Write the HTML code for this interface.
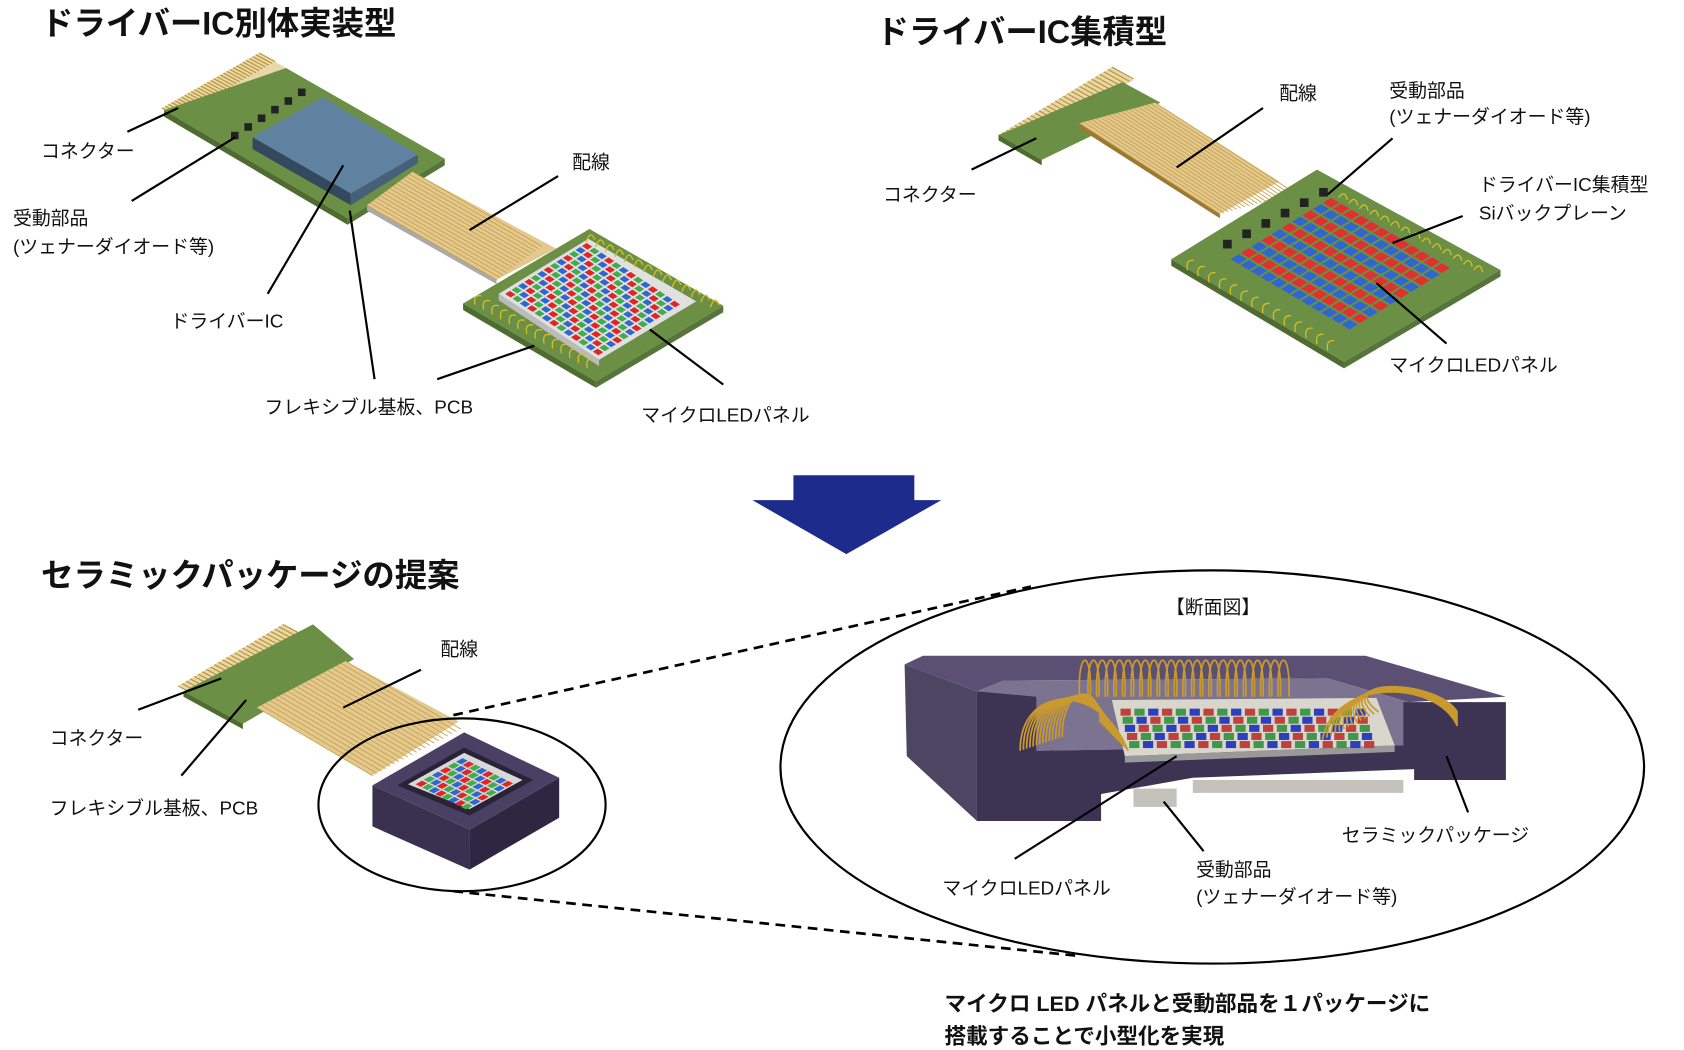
<!DOCTYPE html>
<html><head><meta charset="utf-8"><style>
html,body{margin:0;padding:0;background:#fff;}
svg{display:block;}
text{font-family:"Liberation Sans","Noto Sans CJK JP",sans-serif;fill:#111;}
.t{font-size:30px;font-weight:bold;}
.l{font-size:17.5px;}
.b{font-size:20px;font-weight:bold;}
</style></head><body>
<svg id="s" width="1684" height="1050" viewBox="0 0 1560 972" preserveAspectRatio="none" xmlns="http://www.w3.org/2000/svg">
<rect width="1560" height="972" fill="#fff"/>
<!-- ===== top-left ===== -->
<text class="t" x="38" y="32">ドライバーIC別体実装型</text>
<polygon points="150,100 240,49 265,63 165,110" fill="#e8d7a8"/>
<g id="f1" stroke="#b8902c" stroke-width="1"></g>
<polygon points="152,102 265,63 412,147 322,202" fill="#6b8f45"/>
<polygon points="152,102 322,202 322,208 152,108" fill="#4e6b30"/>
<polygon points="322,202 412,147 412,153 322,208" fill="#56753a"/>
<polygon points="234,127 325,179 325,190 234,138" fill="#34495e"/>
<polygon points="325,179 387,143 387,151 325,190" fill="#46607a"/>
<polygon points="299,90 387,143 325,179 234,127" fill="#5e82a0"/>
<g id="c1" fill="#222"></g>
<polygon points="340,190 382,159 515,230 460,259" fill="#e3c98f"/>
<polygon points="340,190 460,259 460,263 340,195" fill="#aaa"/>
<g id="f2" stroke="#c9a04a" stroke-width="0.8"></g>
<polygon points="429,281 546,212 670,283 552,353" fill="#6b8f45"/>
<polygon points="429,281 552,353 552,359 429,287" fill="#4e6b30"/>
<polygon points="552,353 670,283 670,289 552,359" fill="#56753a"/>
<polygon points="462,272 545,221 645,279 555,333" fill="#e0e0e0"/>
<polygon points="462,272 555,333 555,339 462,278" fill="#bbb"/>
<g id="g1"></g>
<g id="w1" stroke="#d9c020" stroke-width="1.2" fill="none"></g>
<g stroke="#000" stroke-width="2">
<line x1="118" y1="122" x2="165" y2="100"/>
<line x1="122" y1="186" x2="218" y2="127"/>
<line x1="248" y1="272" x2="318" y2="153"/>
<line x1="347" y1="351" x2="324" y2="195"/>
<line x1="405" y1="351" x2="495" y2="320"/>
<line x1="435" y1="213" x2="517" y2="163"/>
<line x1="670" y1="356" x2="602" y2="305"/>
</g>
<text class="l" x="38" y="146">コネクター</text>
<text class="l" x="12" y="208">受動部品</text>
<text class="l" x="12" y="234">(ツェナーダイオード等)</text>
<text class="l" x="158" y="303">ドライバーIC</text>
<text class="l" x="245" y="383">フレキシブル基板、PCB</text>
<text class="l" x="530" y="156">配線</text>
<text class="l" x="594" y="390">マイクロLEDパネル</text>

<!-- ===== top-right ===== -->
<text class="t" x="812" y="40">ドライバーIC集積型</text>
<polygon points="925,125 1030,62 1050,74 945,136" fill="#e8d7a8"/>
<g id="f3" stroke="#b8902c" stroke-width="1"></g>
<polygon points="925,125 1040,76 1075,95 965,148" fill="#6b8f45"/>
<polygon points="925,125 965,148 965,153 925,130" fill="#4e6b30"/>
<polygon points="1000,114 1070,95 1185,168 1130,198" fill="#e3c98f"/>
<polygon points="1000,114 1130,198 1130,202 1000,119" fill="#9a7a30"/>
<g id="f4" stroke="#c9a04a" stroke-width="0.8"></g>
<polygon points="1085,240 1220,157 1390,250 1245,335" fill="#6b8f45"/>
<polygon points="1085,240 1245,335 1245,341 1085,246" fill="#4e6b30"/>
<polygon points="1245,335 1390,250 1390,256 1245,341" fill="#56753a"/>
<g id="g2"></g>
<g id="c2" fill="#222"></g>
<g id="w2" stroke="#d9c020" stroke-width="1.2" fill="none"></g>
<g stroke="#000" stroke-width="2">
<line x1="900" y1="157" x2="960" y2="128"/>
<line x1="1170" y1="100" x2="1090" y2="155"/>
<line x1="1290" y1="128" x2="1230" y2="180"/>
<line x1="1355" y1="200" x2="1290" y2="225"/>
<line x1="1340" y1="318" x2="1275" y2="262"/>
</g>
<text class="l" x="818" y="186">コネクター</text>
<text class="l" x="1185" y="92">配線</text>
<text class="l" x="1287" y="90">受動部品</text>
<text class="l" x="1287" y="114">(ツェナーダイオード等)</text>
<text class="l" x="1370" y="177">ドライバーIC集積型</text>
<text class="l" x="1370" y="203">Siバックプレーン</text>
<text class="l" x="1287" y="344">マイクロLEDパネル</text>

<polygon points="735,440 847,440 847,463 872,463 784,513 697,463 735,463" fill="#1d2b8c"/>

<!-- ===== bottom ===== -->
<text class="t" x="38" y="543">セラミックパッケージの提案</text>
<polygon points="165,635 262,578 280,588 182,645" fill="#e8d7a8"/>
<g id="f5" stroke="#b8902c" stroke-width="1"></g>
<polygon points="170,640 290,578 328,610 225,670" fill="#6b8f45"/>
<polygon points="170,640 225,670 225,675 170,645" fill="#4e6b30"/>
<polygon points="238,655 320,612 425,668 345,718" fill="#e3c98f"/>
<g id="f6" stroke="#c9a04a" stroke-width="0.8"></g>
<ellipse cx="428" cy="745" rx="133" ry="80" fill="none" stroke="#000" stroke-width="2"/>
<polygon points="345,727 435,768 435,805 345,765" fill="#3a3150"/>
<polygon points="435,768 518,720 518,757 435,805" fill="#2e2742"/>
<polygon points="345,727 430,678 518,720 435,768" fill="#4a4063"/>
<polygon points="368,727 430,692 494,722 435,755" fill="#2a2338"/>
<polygon points="378,726 430,697 484,722 435,749" fill="#d8d8d8"/>
<g id="g3"></g>
<g stroke="#000" stroke-width="2.5" stroke-dasharray="9,6" fill="none">
<line x1="420" y1="662" x2="955" y2="543"/>
<line x1="420" y1="825" x2="1000" y2="885"/>
</g>
<ellipse cx="1123" cy="710" rx="400" ry="182" fill="none" stroke="#000" stroke-width="2"/>
<text class="l" x="1080" y="568">【断面図】</text>
<polygon points="838,615 855,607 1265,607 1395,645 1305,650 1230,628 930,630 905,640" fill="#5b5073"/>
<polygon points="905,640 930,630 1230,628 1305,650 1300,690 960,695" fill="#7c7390"/>
<polygon points="838,615 905,640 905,760 840,700" fill="#4e4563"/>
<path d="M905,640 L960,645 L960,695 L1300,690 L1300,650 L1395,650 L1395,722 L1310,722 L1310,712 L1105,720 L1020,735 L1020,760 L905,760 Z" fill="#3d3352"/>
<polygon points="1030,648 1275,646 1292,690 1042,700" fill="#d9d6cc"/>
<polygon points="1042,700 1292,690 1292,696 1042,706" fill="#999"/>
<g id="g4"></g>
<g id="w4" stroke="#c99a2e" stroke-width="1.6" fill="none"></g>
<rect x="1050" y="730" width="40" height="17" fill="#c4c2bb"/>
<rect x="1105" y="722" width="195" height="12" fill="#c4c2bb"/>
<g stroke="#000" stroke-width="2">
<line x1="940" y1="795" x2="1090" y2="700"/>
<line x1="1115" y1="788" x2="1078" y2="742"/>
<line x1="1360" y1="752" x2="1340" y2="700"/>
</g>
<text class="l" x="873" y="828">マイクロLEDパネル</text>
<text class="l" x="1108" y="811">受動部品</text>
<text class="l" x="1108" y="836">(ツェナーダイオード等)</text>
<text class="l" x="1243" y="779">セラミックパッケージ</text>
<text class="l" x="408" y="607">配線</text>
<text class="l" x="46" y="689">コネクター</text>
<text class="l" x="46" y="754">フレキシブル基板、PCB</text>
<g stroke="#000" stroke-width="2">
<line x1="318" y1="655" x2="390" y2="620"/>
<line x1="128" y1="657" x2="205" y2="628"/>
<line x1="168" y1="718" x2="228" y2="648"/>
</g>
<text class="b" x="875" y="936">マイクロ LED パネルと受動部品を１パッケージに</text>
<text class="b" x="875" y="966">搭載することで小型化を実現</text>
</svg>
<script>
var NS="http://www.w3.org/2000/svg";
function el(p,t,a){var e=document.createElementNS(NS,t);for(var k in a)e.setAttribute(k,a[k]);document.getElementById(p).appendChild(e);return e;}
function stripes(id,a,b,d,n){for(var i=0;i<=n;i++){var t=i/n;var x=a[0]+(b[0]-a[0])*t,y=a[1]+(b[1]-a[1])*t;el(id,"line",{x1:x,y1:y,x2:x+d[0],y2:y+d[1]});}}
stripes("f1",[150,100],[240,49],[15,8],30);
stripes("f2",[340,190],[382,159],[120,69],14);
stripes("f3",[925,125],[1030,62],[20,11],28);
stripes("f4",[1000,114],[1070,95],[130,84],18);
stripes("f5",[165,635],[262,578],[17,9],26);
stripes("f6",[238,655],[320,612],[107,63],20);
function grid(id,o,u,v,n,m,colf,f){for(var i=0;i<n;i++)for(var j=0;j<m;j++){var a=i/n,b=j/m,da=f/n,db=f/m;var P=function(s,t){return (o[0]+u[0]*s+v[0]*t)+","+(o[1]+u[1]*s+v[1]*t);};el(id,"polygon",{points:P(a,b)+" "+P(a+da,b)+" "+P(a+da,b+db)+" "+P(a,b+db),fill:colf(i,j)});}}
var rgb=["#e02525","#3fae4a","#2f66d0"];
grid("g1",[468,272],[77,-48],[88,58],13,13,function(i,j){return rgb[(i+j)%3];},0.75);
grid("g2",[1140,240],[95,-58],[112,66],10,12,function(i,j){return i%2?"#e03030":"#2f66d0";},0.8);
grid("g3",[385,726],[45,-25],[48,24],6,8,function(i,j){return rgb[(i+j)%3];},0.8);
(function(){var cols=["#c0403e","#3e9a4a","#2c3fc0"];for(var r=0;r<5;r++)for(var c=0;c<18;c++){var x=1046+c*12.8-(4-r)*2, y=656+r*7.5;el("g4","rect",{x:x,y:y,width:9.5,height:6.5,fill:cols[(r+c)%3]});}})();
(function(){for(var i=0;i<14;i++){var t=i/14;var x=546+(670-546)*t,y=218+(283-218)*t;el("w1","path",{d:"M"+(x-3)+","+(y+6)+" q4,-12 8,-2"});var x2=440+(552-440)*t,y2=282+(345-282)*t;el("w1","path",{d:"M"+x2+","+y2+" q-2,-10 6,-8"});}})();
(function(){for(var i=0;i<14;i++){var t=i/14;var x=1100+(1240-1100)*t,y=250+(330-250)*t;el("w2","path",{d:"M"+x+","+y+" q-2,-10 6,-9"});var x2=1240+(1375-1240)*t,y2=183+(255-183)*t;el("w2","path",{d:"M"+x2+","+y2+" q6,-8 8,2"});}})();
(function(){for(var i=0;i<6;i++){var t=i/5;el("c1","rect",{x:214+(276-214)*t,y:122+(82-122)*t,width:7,height:7});el("c2","rect",{x:1133+(1222-1133)*t,y:222+(174-222)*t,width:8,height:8});}})();
(function(){for(var i=0;i<24;i++){var x=1000+i*8;el("w4","path",{d:"M"+x+",645 C"+(x-2)+",600 "+(x+12)+",600 "+(x+10)+",645"});}for(var k=0;k<14;k++){el("w4","path",{d:"M"+(945+k*3)+","+(695-k)+" C"+(945+k*3)+",632 "+(1020)+",632 "+(1045-k*2)+","+(695-k*2)});el("w4","path",{d:"M"+(1225+k*4)+","+(685-k*2)+" C"+(1235)+",628 "+(1330)+",628 "+(1350)+","+(672-k)});}})();
</script>
</body></html>
